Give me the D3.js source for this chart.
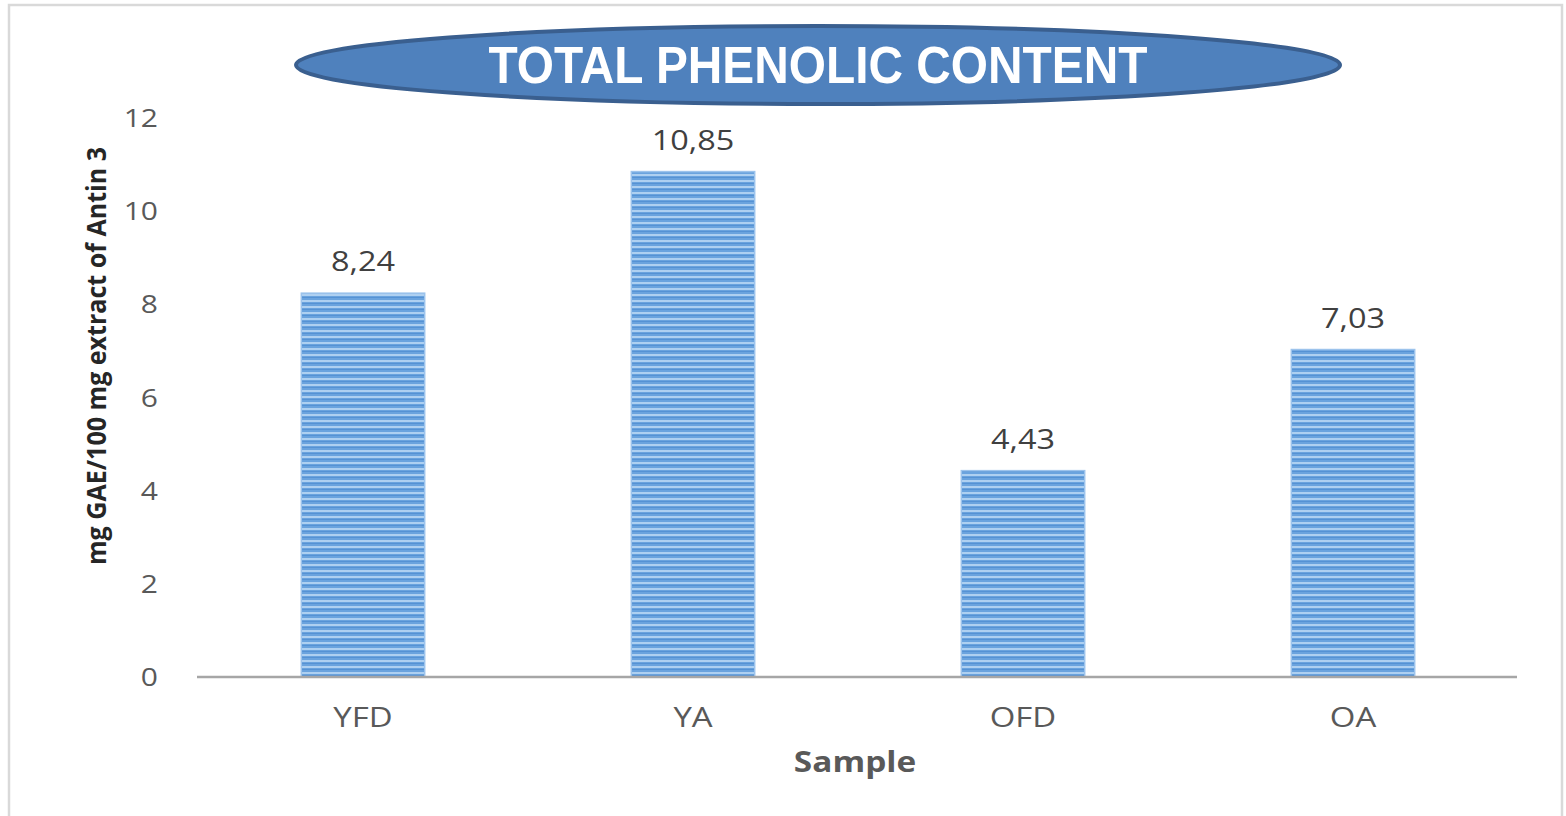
<!DOCTYPE html>
<html><head><meta charset="utf-8">
<script src="https://cdn.jsdelivr.net/npm/d3@7"></script>
<style>body{margin:0;background:#fff;}svg{display:block;}</style>
</head><body>
<svg id="chart" width="1566" height="816"></svg>
<script>
const categories = ["YFD", "YA", "OFD", "OA"];
const values = [8.24, 10.85, 4.43, 7.03];
const valueLabels = ["8,24", "10,85", "4,43", "7,03"];
const yTicks = [0, 2, 4, 6, 8, 10, 12];
const title = "TOTAL PHENOLIC CONTENT";
const yTitle = "mg GAE/100 mg extract of Antin 3";
const xTitle = "Sample";

const svg = d3.select("#chart");
svg.append("rect").attr("x", 9).attr("y", 5).attr("width", 1553).attr("height", 830)
  .attr("fill", "#fff").attr("stroke", "#d9d9d9").attr("stroke-width", 2.5);

const defs = svg.append("defs");
const pat = defs.append("pattern").attr("id", "stripes").attr("patternUnits", "userSpaceOnUse")
  .attr("width", 10).attr("height", 6);
pat.append("rect").attr("width", 10).attr("height", 6).attr("fill", "#6aa3de");
pat.append("rect").attr("y", 0).attr("width", 10).attr("height", 2).attr("fill", "#aed0f1");
pat.append("rect").attr("y", 3).attr("width", 10).attr("height", 1).attr("fill", "#5592d4");

const y = d3.scaleLinear().domain([0, 12]).range([677, 118]);
const x = d3.scaleBand().domain(categories).range([197, 1517]).paddingInner(0.62).paddingOuter(0.31);

function stretched(sel, sx) {
  return sel.attr("transform", d => `translate(${d.x},${d.y}) scale(${sx},1)`);
}

// y tick labels
svg.append("g").selectAll("text").data(yTicks.map(t => ({t, x: 158, y: y(t)}))).join("text")
  .call(stretched, 1.2).attr("dy", "0.36em").attr("text-anchor", "end")
  .attr("font-family", "Open Sans").attr("font-size", 25).attr("fill", "#595959")
  .text(d => d.t);

// bars
svg.append("g").selectAll("rect").data(values).join("rect")
  .attr("x", (d, i) => x(categories[i]) + 2).attr("width", x.bandwidth() - 2)
  .attr("y", d => y(d)).attr("height", d => y(0) - y(d))
  .attr("fill", "url(#stripes)").attr("stroke", "#9cc3ec").attr("stroke-width", 1.5);

// axis line
svg.append("line").attr("x1", 197).attr("x2", 1517).attr("y1", y(0)).attr("y2", y(0))
  .attr("stroke", "#a6a6a6").attr("stroke-width", 2.5);

// value labels
svg.append("g").selectAll("text")
  .data(values.map((v, i) => ({v, i, x: x(categories[i]) + x.bandwidth() / 2 + 1, y: y(v) - 22})))
  .join("text").call(stretched, 1.2)
  .attr("text-anchor", "middle").attr("font-family", "Open Sans").attr("font-size", 27)
  .attr("fill", "#404040").text(d => valueLabels[d.i]);

// x labels
svg.append("g").selectAll("text")
  .data(categories.map(c => ({c, x: x(c) + x.bandwidth() / 2 + 1, y: 727})))
  .join("text").call(stretched, 1.22)
  .attr("text-anchor", "middle").attr("font-family", "Open Sans").attr("font-size", 27)
  .attr("fill", "#595959").text(d => d.c);

// x title
svg.append("g").selectAll("text").data([{x: 855, y: 772}]).join("text").call(stretched, 1.15)
  .attr("text-anchor", "middle")
  .attr("font-family", "Open Sans").attr("font-weight", "bold").attr("font-size", 29)
  .attr("fill", "#595959").text(xTitle);

// y title
svg.append("text").attr("transform", "translate(106,356) rotate(-90)").attr("text-anchor", "middle")
  .attr("font-family", "Open Sans").attr("font-weight", "bold").attr("font-size", 26)
  .attr("fill", "#262626").attr("textLength", 418).attr("lengthAdjust", "spacingAndGlyphs")
  .text(yTitle);

// title ellipse
svg.append("ellipse").attr("cx", 818).attr("cy", 65).attr("rx", 522).attr("ry", 39)
  .attr("fill", "#4f81bd").attr("stroke", "#3a5f8f").attr("stroke-width", 4);
svg.append("text").attr("x", 818).attr("y", 83).attr("text-anchor", "middle")
  .attr("font-family", "Liberation Sans").attr("font-weight", "bold").attr("font-size", 52)
  .attr("fill", "#fff").attr("textLength", 659).attr("lengthAdjust", "spacingAndGlyphs")
  .text(title);
</script>
</body></html>
